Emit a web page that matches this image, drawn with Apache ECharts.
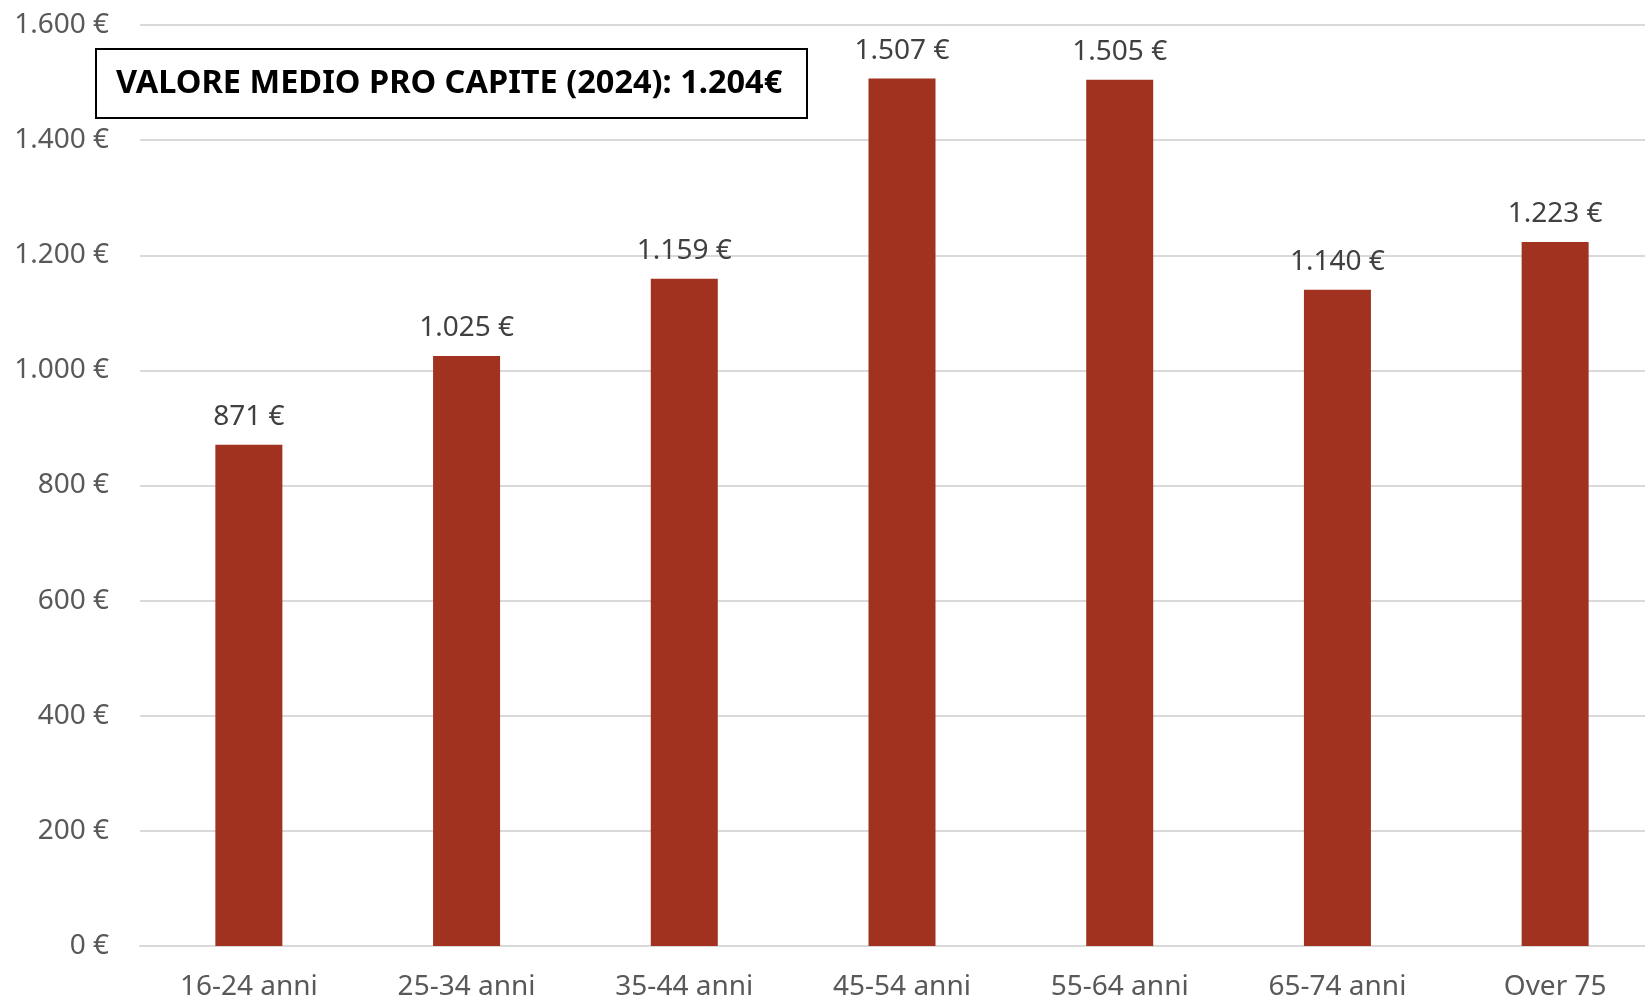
<!DOCTYPE html>
<html>
<head>
<meta charset="utf-8">
<script src="https://cdn.jsdelivr.net/npm/echarts@6/dist/echarts.min.js"></script>
<style>
  html, body { margin: 0; padding: 0; background: #fff; }
  #chart { width: 1645px; height: 1000px; }
</style>
</head>
<body>
<div id="chart"></div>
<script>
// dati
const categories = ['16-24 anni', '25-34 anni', '35-44 anni', '45-54 anni', '55-64 anni', '65-74 anni', 'Over 75'];
const values = [871, 1025, 1159, 1507, 1505, 1140, 1223];
const boxText = 'VALORE MEDIO PRO CAPITE (2024): 1.204€';

const fmt = v => v.toLocaleString('de-DE') + ' €';

const chart = echarts.init(document.getElementById('chart'));
chart.setOption({
  animation: false,
  textStyle: { fontFamily: 'Noto Sans' },
  // il grafico originale è tagliato a destra
  grid: { left: 140, width: 1524, top: 25, bottom: 54, containLabel: false, outerBoundsMode: 'none' },
  xAxis: {
    type: 'category',
    data: categories,
    axisTick: { show: false },
    axisLine: { lineStyle: { color: '#d9d9d9', width: 2 } },
    axisLabel: { color: '#595959', fontSize: 28, margin: 27 }
  },
  yAxis: {
    type: 'value',
    min: 0, max: 1600, interval: 200,
    axisLabel: { color: '#595959', fontSize: 28, margin: 31, formatter: fmt },
    splitLine: { lineStyle: { color: '#d9d9d9', width: 2 } }
  },
  series: [{
    type: 'bar',
    data: values,
    barWidth: 67,
    itemStyle: { color: '#A0321F' },
    label: {
      show: true, position: 'top', distance: 14,
      color: '#404040', fontSize: 28, formatter: p => fmt(p.value)
    }
  }],
  graphic: [{
    type: 'group', left: 95, top: 48,
    children: [
      { type: 'rect', shape: { x: 0, y: 0, width: 711, height: 69 },
        style: { fill: '#fff', stroke: '#000', lineWidth: 2 } },
      { type: 'text', x: 20, y: 35,
        style: { text: boxText, fill: '#000', font: 'bold 32.5px "Noto Sans"', align: 'left', verticalAlign: 'middle' } }
    ]
  }]
});
</script>
</body>
</html>
